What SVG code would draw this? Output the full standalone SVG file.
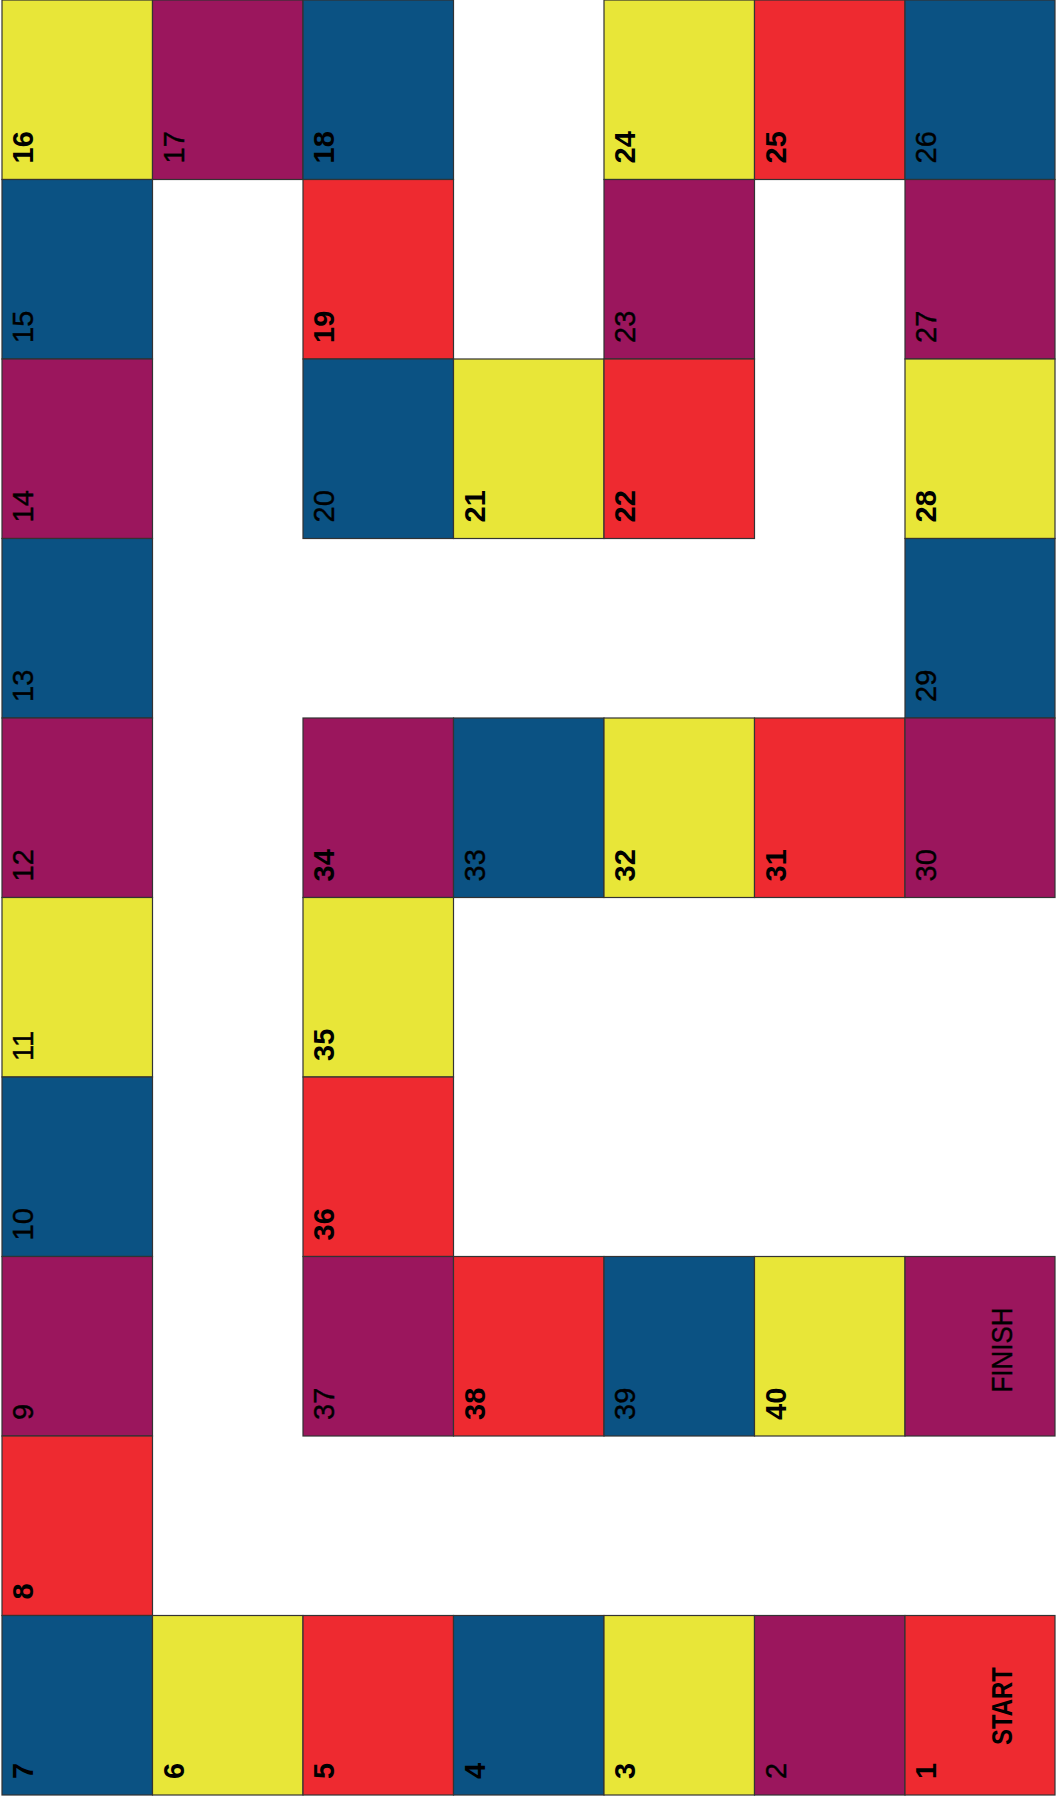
<svg xmlns="http://www.w3.org/2000/svg" width="1056" height="1803" viewBox="0 0 1056 1803">
<style>
.c{stroke:#333;stroke-width:1.2}
.y{fill:#E8E638}
.p{fill:#9B165D}
.b{fill:#0B5283}
.r{fill:#EE2A30}
text{font-family:"Liberation Sans",Arial,sans-serif;font-size:29px;fill:#000}
.n{font-weight:normal;stroke:#000;stroke-width:0.4}
.k{font-weight:bold}
</style>
<rect x="0" y="0" width="1056" height="1803" fill="#fff"/>
<g id="cells">
<g id="cell-16"><rect class="c y" x="2" y="0" width="150.5" height="179.5"/><text class="k" transform="translate(33,163.5) rotate(-90)">16</text></g>
<g id="cell-17"><rect class="c p" x="152.5" y="0" width="150.5" height="179.5"/><text class="n" transform="translate(183.5,163.5) rotate(-90)">17</text></g>
<g id="cell-18"><rect class="c b" x="303" y="0" width="150.5" height="179.5"/><text class="k" transform="translate(334,163.5) rotate(-90)">18</text></g>
<g id="cell-24"><rect class="c y" x="604" y="0" width="150.5" height="179.5"/><text class="k" transform="translate(635,163.5) rotate(-90)">24</text></g>
<g id="cell-25"><rect class="c r" x="754.5" y="0" width="150.5" height="179.5"/><text class="k" transform="translate(785.5,163.5) rotate(-90)">25</text></g>
<g id="cell-26"><rect class="c b" x="905" y="0" width="150" height="179.5"/><text class="n" transform="translate(936,163.5) rotate(-90)">26</text></g>

<g id="cell-15"><rect class="c b" x="2" y="179.5" width="150.5" height="179.5"/><text class="n" transform="translate(33,343) rotate(-90)">15</text></g>
<g id="cell-19"><rect class="c r" x="303" y="179.5" width="150.5" height="179.5"/><text class="k" transform="translate(334,343) rotate(-90)">19</text></g>
<g id="cell-23"><rect class="c p" x="604" y="179.5" width="150.5" height="179.5"/><text class="n" transform="translate(635,343) rotate(-90)">23</text></g>
<g id="cell-27"><rect class="c p" x="905" y="179.5" width="150" height="179.5"/><text class="n" transform="translate(936,343) rotate(-90)">27</text></g>

<g id="cell-14"><rect class="c p" x="2" y="359" width="150.5" height="179.5"/><text class="n" transform="translate(33,522.5) rotate(-90)">14</text></g>
<g id="cell-20"><rect class="c b" x="303" y="359" width="150.5" height="179.5"/><text class="n" transform="translate(334,522.5) rotate(-90)">20</text></g>
<g id="cell-21"><rect class="c y" x="453.5" y="359" width="150.5" height="179.5"/><text class="k" transform="translate(484.5,522.5) rotate(-90)">21</text></g>
<g id="cell-22"><rect class="c r" x="604" y="359" width="150.5" height="179.5"/><text class="k" transform="translate(635,522.5) rotate(-90)">22</text></g>
<g id="cell-28"><rect class="c y" x="905" y="359" width="150" height="179.5"/><text class="k" transform="translate(936,522.5) rotate(-90)">28</text></g>

<g id="cell-13"><rect class="c b" x="2" y="538.5" width="150.5" height="179.5"/><text class="n" transform="translate(33,702) rotate(-90)">13</text></g>
<g id="cell-29"><rect class="c b" x="905" y="538.5" width="150" height="179.5"/><text class="n" transform="translate(936,702) rotate(-90)">29</text></g>

<g id="cell-12"><rect class="c p" x="2" y="718" width="150.5" height="179.5"/><text class="n" transform="translate(33,881.5) rotate(-90)">12</text></g>
<g id="cell-34"><rect class="c p" x="303" y="718" width="150.5" height="179.5"/><text class="k" transform="translate(334,881.5) rotate(-90)">34</text></g>
<g id="cell-33"><rect class="c b" x="453.5" y="718" width="150.5" height="179.5"/><text class="n" transform="translate(484.5,881.5) rotate(-90)">33</text></g>
<g id="cell-32"><rect class="c y" x="604" y="718" width="150.5" height="179.5"/><text class="k" transform="translate(635,881.5) rotate(-90)">32</text></g>
<g id="cell-31"><rect class="c r" x="754.5" y="718" width="150.5" height="179.5"/><text class="k" transform="translate(785.5,881.5) rotate(-90)">31</text></g>
<g id="cell-30"><rect class="c p" x="905" y="718" width="150" height="179.5"/><text class="n" transform="translate(936,881.5) rotate(-90)">30</text></g>

<g id="cell-11"><rect class="c y" x="2" y="897.5" width="150.5" height="179.5"/><text class="n" transform="translate(33,1061) rotate(-90)">11</text></g>
<g id="cell-35"><rect class="c y" x="303" y="897.5" width="150.5" height="179.5"/><text class="k" transform="translate(334,1061) rotate(-90)">35</text></g>

<g id="cell-10"><rect class="c b" x="2" y="1077" width="150.5" height="179.5"/><text class="n" transform="translate(33,1240.5) rotate(-90)">10</text></g>
<g id="cell-36"><rect class="c r" x="303" y="1077" width="150.5" height="179.5"/><text class="k" transform="translate(334,1240.5) rotate(-90)">36</text></g>

<g id="cell-9"><rect class="c p" x="2" y="1256.5" width="150.5" height="179.5"/><text class="n" transform="translate(33,1420) rotate(-90)">9</text></g>
<g id="cell-37"><rect class="c p" x="303" y="1256.5" width="150.5" height="179.5"/><text class="n" transform="translate(334,1420) rotate(-90)">37</text></g>
<g id="cell-38"><rect class="c r" x="453.5" y="1256.5" width="150.5" height="179.5"/><text class="k" transform="translate(484.5,1420) rotate(-90)">38</text></g>
<g id="cell-39"><rect class="c b" x="604" y="1256.5" width="150.5" height="179.5"/><text class="n" transform="translate(635,1420) rotate(-90)">39</text></g>
<g id="cell-40"><rect class="c y" x="754.5" y="1256.5" width="150.5" height="179.5"/><text class="k" transform="translate(785.5,1420) rotate(-90)">40</text></g>
<g id="cell-finish"><rect class="c p" x="905" y="1256.5" width="150" height="179.5"/><text class="n" text-anchor="middle" textLength="85" lengthAdjust="spacingAndGlyphs" transform="translate(1012,1350) rotate(-90)">FINISH</text></g>

<g id="cell-8"><rect class="c r" x="2" y="1436" width="150.5" height="179.5"/><text class="k" transform="translate(33,1599.5) rotate(-90)">8</text></g>

<g id="cell-7"><rect class="c b" x="2" y="1615.5" width="150.5" height="179.5"/><text class="k" transform="translate(33,1779) rotate(-90)">7</text></g>
<g id="cell-6"><rect class="c y" x="152.5" y="1615.5" width="150.5" height="179.5"/><text class="k" transform="translate(183.5,1779) rotate(-90)">6</text></g>
<g id="cell-5"><rect class="c r" x="303" y="1615.5" width="150.5" height="179.5"/><text class="k" transform="translate(334,1779) rotate(-90)">5</text></g>
<g id="cell-4"><rect class="c b" x="453.5" y="1615.5" width="150.5" height="179.5"/><text class="k" transform="translate(484.5,1779) rotate(-90)">4</text></g>
<g id="cell-3"><rect class="c y" x="604" y="1615.5" width="150.5" height="179.5"/><text class="k" transform="translate(635,1779) rotate(-90)">3</text></g>
<g id="cell-2"><rect class="c p" x="754.5" y="1615.5" width="150.5" height="179.5"/><text class="n" transform="translate(785.5,1779) rotate(-90)">2</text></g>
<g id="cell-1"><rect class="c r" x="905" y="1615.5" width="150" height="179.5"/><text class="k" transform="translate(936,1779) rotate(-90)">1</text><text class="k" text-anchor="middle" textLength="78" lengthAdjust="spacingAndGlyphs" transform="translate(1012,1706) rotate(-90)">START</text></g>
</g>
</svg>
